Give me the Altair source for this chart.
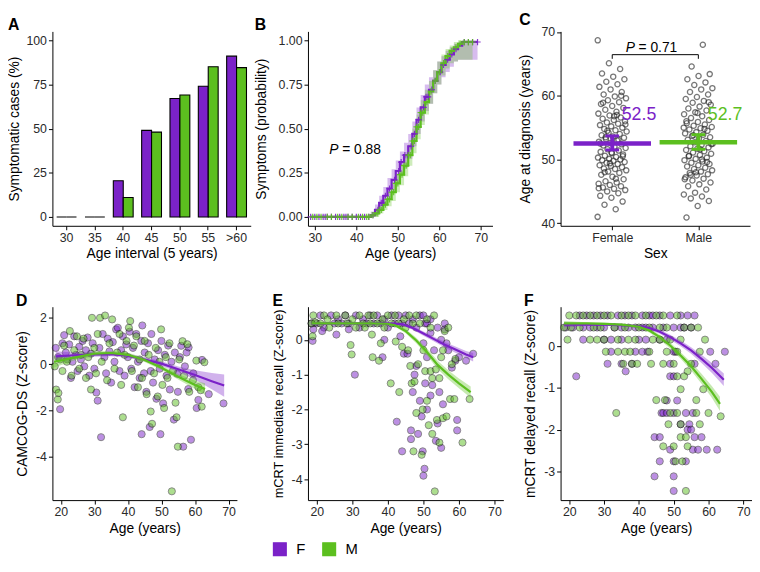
import altair as alt
import pandas as pd
import numpy as np

PURPLE = "#7B22C8"
GREEN = "#5CBF1F"
FONT = "Liberation Sans"
SEXES = ["F", "M"]
CS = alt.Scale(domain=SEXES, range=[PURPLE, GREEN])

# ---------------- Panel A data ----------------
A_groups = ["30", "35", "40", "45", "50", "55", ">60"]
A_F = [0, 0, 20.5, 49, 67, 74, 91]
A_M = [0, 0, 11, 48, 69, 85, 84.5]

# ---------------- Panel B data (cumulative symptom probability) ----------------
B_F_age = [29, 43.5, 44.5, 45.5, 46.5, 47.5, 48.5, 49.5, 50.5, 51.5, 52.5, 53.5, 54.5, 55.5, 56.5, 57.5, 58.5, 59.5, 60.5, 61.5, 62.5, 63.5, 64.5, 65.5, 69.2]
B_F_p = [0, 0.01, 0.04, 0.08, 0.12, 0.16, 0.21, 0.26, 0.31, 0.35, 0.40, 0.47, 0.55, 0.62, 0.68, 0.72, 0.77, 0.82, 0.86, 0.89, 0.92, 0.95, 0.97, 0.99, 0.99]
B_F_lo = [0, 0, 0.01, 0.04, 0.07, 0.10, 0.14, 0.19, 0.24, 0.28, 0.33, 0.40, 0.47, 0.54, 0.60, 0.64, 0.70, 0.75, 0.79, 0.82, 0.85, 0.88, 0.89, 0.89, 0.89]
B_F_hi = [0, 0.03, 0.07, 0.12, 0.17, 0.22, 0.27, 0.32, 0.37, 0.42, 0.47, 0.54, 0.62, 0.69, 0.75, 0.79, 0.83, 0.88, 0.91, 0.94, 0.96, 0.98, 0.99, 1.0, 1.0]
B_M_age = [29, 43.5, 44.5, 45.5, 46.5, 47.5, 48.5, 49.5, 50.5, 51.5, 52.5, 53.5, 54.5, 55.5, 56.5, 57.5, 58.5, 59.5, 60.5, 61.5, 62.5, 63.5, 64.5, 65.5, 68]
B_M_p = [0, 0.01, 0.02, 0.04, 0.07, 0.10, 0.14, 0.19, 0.24, 0.29, 0.35, 0.43, 0.51, 0.59, 0.65, 0.71, 0.77, 0.82, 0.87, 0.91, 0.94, 0.96, 0.98, 0.99, 0.99]
B_M_lo = [0, 0, 0.0, 0.02, 0.04, 0.06, 0.09, 0.14, 0.18, 0.23, 0.29, 0.36, 0.44, 0.52, 0.58, 0.64, 0.70, 0.75, 0.80, 0.84, 0.87, 0.88, 0.89, 0.89, 0.89]
B_M_hi = [0, 0.03, 0.04, 0.07, 0.10, 0.14, 0.19, 0.24, 0.30, 0.35, 0.41, 0.50, 0.58, 0.66, 0.72, 0.77, 0.83, 0.88, 0.92, 0.95, 0.97, 0.99, 1.0, 1.0, 1.0]
B_F_cens = [29, 30, 31, 32, 32.5, 33, 34, 35, 36, 37, 37.5, 38, 39, 40, 41, 42, 43, 44, 45.2, 46, 46.3, 47, 48, 49.2, 50.2, 50.8, 51.7, 52.3, 53.2, 54, 55, 56.2, 56.8, 57.3, 58.2, 59, 60.2, 61, 62, 63, 64, 66, 67, 68, 69.2]
B_M_cens = [29.5, 30.5, 31.5, 33, 34, 35.5, 36.5, 38, 39, 40.5, 41.5, 42.5, 43, 44, 45, 45.5, 46, 47, 47.5, 48, 48.5, 49, 49.5, 50, 50.5, 51, 51.5, 52, 52.5, 53, 53.5, 54, 54.5, 55, 55.5, 56, 57, 58, 59, 60, 61, 62, 63, 64, 65, 66, 67, 68]
B_P_TEXT = ["P", "= 0.88"]
B_P_age, B_P_prob = 33.5, 0.38

# ---------------- Panel C data ----------------
C_SEX_LABELS = ["Female", "Male"]
C_F_ages = [41.0, 42.2, 42.9, 43.4, 44.0, 44.3, 44.7, 45.0, 45.2, 45.4, 45.6, 45.8, 46.0, 46.2, 46.4, 46.6, 46.9, 47.3, 47.6, 47.9,
            48.1, 48.3, 48.5, 48.6, 48.8, 49.0, 49.1, 49.3, 49.5, 49.6, 49.8, 49.9, 50.0, 50.1, 50.3, 50.4, 50.6, 50.8, 51.0, 51.2,
            51.4, 51.6, 51.8, 52.0, 52.2, 52.4, 52.6, 52.8, 53.0, 53.2, 53.4, 53.6, 53.8, 54.0, 54.2, 54.4, 54.6, 54.8, 55.0, 55.2,
            55.4, 55.6, 55.8, 56.0, 56.2, 56.4, 56.6, 56.9, 57.2, 57.5, 57.8, 58.1, 58.4, 58.7, 59.0, 59.3, 59.6, 59.9, 60.2, 60.6,
            61.0, 61.4, 61.8, 62.2, 62.6, 63.0, 63.5, 64.2, 65.1, 68.7, 47.0, 48.0, 50.5, 51.1, 52.5, 53.1, 54.5, 55.5, 56.8, 58.9,
            60.0, 49.4, 45.5, 57.0, 53.5]
C_M_ages = [40.9, 42.7, 43.5, 43.9, 44.2, 44.5, 44.8, 45.3, 45.8, 46.1, 46.4, 46.7, 47.0, 47.2, 47.5, 47.7, 47.9, 48.1, 48.3, 48.5,
            48.7, 48.9, 49.1, 49.3, 49.5, 49.7, 49.9, 50.1, 50.3, 50.5, 50.7, 50.9, 51.1, 51.3, 51.5, 51.7, 51.9, 52.1, 52.3, 52.5,
            52.7, 52.9, 53.1, 53.3, 53.5, 53.7, 53.9, 54.1, 54.3, 54.5, 54.7, 54.9, 55.1, 55.3, 55.5, 55.7, 55.9, 56.2, 56.5, 56.8,
            57.1, 57.4, 57.7, 58.0, 58.3, 58.6, 58.9, 59.2, 59.5, 59.8, 60.2, 60.6, 61.0, 61.2, 61.7, 62.1, 62.6, 63.1, 63.4, 64.6,
            68.0, 46.9, 48.0, 49.6, 50.6, 51.6, 52.4, 53.8, 54.8, 56.0, 57.3, 59.0, 47.6, 50.0, 55.0]
C_mean = [52.5, 52.7]
C_lo = [51.5, 51.6]
C_hi = [53.7, 53.9]
C_label = ["52.5", "52.7"]
C_label_y = [56.9, 57.0]
C_P_TEXT = ["P", "= 0.71"]
C_bracket_y, C_bracket_low, C_P_y = 66.45, 65.8, 67.5

# ---------------- Panel D data ----------------
D_F_age = [18.5, 19.2, 19.8, 20.5, 21, 21.5, 22, 22.5, 23, 23.5, 24, 24.5, 25, 25.5, 26, 26.5, 27, 27.5, 28, 28.5, 29, 29.5, 30,
           30.6, 31, 31.5, 32, 32.5, 33, 33.5, 34, 34.5, 35, 35.5, 36, 36.5, 37, 37.5, 38, 38.5, 39, 39.5, 40, 40.5, 41, 41.5,
           42, 42.5, 43, 43.5, 44, 44.1, 44.3, 44.8, 45, 45.5, 46, 46.5, 46.8, 47, 47.5, 48, 48.5, 49, 49.7, 49.5, 50, 50.5,
           51, 51.5, 52, 52.5, 53, 53.7, 54, 54.7, 54.9, 55.5, 55.9, 56.5, 57, 57.5, 58, 58.1, 58.8, 59.5, 60.5, 61, 62.1,
           64.1, 68.5]
D_F_val = [0.7, 0.3, -1.95, 0.9, 1.25, 0.5, 0.2, 0.85, -0.6, 0.1, 1.2, 0.4, -0.3, 0.75, 0.2, 1.0, -0.1, 0.6, 1.15, -0.5, 0.45, 0.9,
           -0.2, -1.23, -1.58, 0.7, -3.16, 1.3, 0.3, -0.4, 1.1, 0.55, -0.8, 0.95, 0.1, 1.5, 1.57, -0.3, 0.6, 1.2, -0.5, 0.85,
           0.3, 1.4, -0.2, 0.7, -1.0, 1.3, 0.1, -0.6, 1.0, -3.03, 1.67, -0.4, 0.5, -1.2, 0.9, -2.72, -0.3, 1.3, -0.8, 0.2,
           -1.5, 0.6, -3.03, -0.2, 1.0, -1.7, 0.4, -0.5, 0.8, -1.1, 0.1, -2.4, 0.5, -0.42, -1.2, 0.3, 0.79, -3.57, -0.1, 0.5,
           -1.08, 0.72, -3.27, -0.4, -1.9, -1.55, 0.18, -1.3, -1.7]
D_M_age = [18.2, 18.6, 19.1, 19.3, 19.8, 20.5, 21, 21.8, 22.7, 23.2, 24, 24.8, 25.5, 26, 26.8, 27.5, 28.2, 29, 29.3, 30, 30.5,
           31, 31.7, 32.2, 33.2, 33.8, 34.5, 35.3, 36, 36.8, 37.5, 38, 38.5, 39, 39.6, 40.3, 40.7, 41.2, 41.8, 42.5, 43, 43.5,
           44.2, 45, 45.6, 46.2, 46.8, 47.2, 47.8, 48.3, 48.9, 49.4, 49.9, 50.3, 50.8, 51.3, 51.8, 52.4, 53.1, 53.4, 54.2, 54.5,
           54.9, 55.3, 56.3, 56.8, 57.7, 58.3, 59.4, 60.4, 61, 61.7, 62, 62.8]
D_M_val = [-0.1, -1.1, -1.53, -1.25, 0.2, -0.3, 0.8, 0.1, 1.43, -0.5, 0.6, 1.2, -0.2, 0.4, 1.1, -0.6, 0.3, -1.1, 2.0, 0.7, -0.4,
           1.3, 2.0, 0.1, 2.1, -0.7, 0.9, 1.93, -0.2, 0.5, 1.3, -0.9, -2.3, 0.4, 1.0, 1.57, 1.86, -0.3, 0.8, 1.2, -1.0, 0.2,
           -0.6, 1.0, -1.3, 0.4, -2.05, -2.58, -0.4, 0.7, -1.4, 0.1, 1.5, -0.9, -1.9, 0.3, -0.6, 0.9, -5.5, -0.3, -1.67, -2.3,
           -3.57, 0.2, 0.99, -0.5, 0.86, -1.2, -0.7, 0.15, -1.0, -1.13, -1.84, 0.08]
D_fitF_age = [18.5, 24, 30, 35, 40, 45, 50, 55, 60, 65, 68.7]
D_fitF_val = [0.33, 0.38, 0.42, 0.43, 0.36, 0.20, 0.02, -0.22, -0.47, -0.74, -0.93]
D_fitF_se = [0.22, 0.12, 0.10, 0.09, 0.09, 0.09, 0.10, 0.12, 0.20, 0.35, 0.48]
D_fitM_age = [18, 24, 30, 35, 40, 45, 50, 55, 60, 63]
D_fitM_val = [0.10, 0.28, 0.45, 0.48, 0.40, 0.18, -0.16, -0.55, -0.90, -1.08]
D_fitM_se = [0.25, 0.12, 0.10, 0.09, 0.09, 0.09, 0.10, 0.12, 0.18, 0.25]

# ---------------- Panel E data ----------------
E_F_age = [21, 24, 26, 28, 31, 33, 35, 37, 39, 41, 43, 45, 47, 49, 50, 52,
           18.5, 20, 22, 25, 27, 29, 32, 34, 36, 38, 40, 42, 44, 46, 48, 50.5, 51, 54, 56,
           18.8, 19, 21.5, 25.5, 29, 30.7, 38.5, 39, 42.5, 43.5, 44, 44.5, 45.5, 46.5, 46.5, 47, 47.5, 48, 48.5, 49,
           49.5, 49.8, 50, 50.3, 50.5, 51, 51, 52, 52.5, 53, 53.5, 54, 54.5, 55, 55.5, 56, 56.5, 57, 58, 59.5, 59.5,
           59, 60, 62, 64, 55, 52, 50]
E_F_val = [0.7, 0.7, 0.59, 0.7, 0.7, 0.59, 0.7, 0.7, 0.59, 0.7, 0.7, 0.7, 0.59, 0.7, 0.7, 0.59,
           0.47, 0.47, 0.35, 0.47, 0.47, 0.47, 0.35, 0.47, 0.47, 0.47, 0.35, 0.47, 0.47, 0.47, 0.35, 0.47, 0.47, 0.35, 0.47,
           -0.03, 0.3, 0.25, 0.15, 0.3, -1.0, -0.5, 0.0, -2.35, 0.1, -3.2, -0.4, -0.4, -2.6, -2.85, -1.5, -1.0, -0.75, -2.7, -1.75,
           -2.2, -3.2, -3.9, -3.7, -1.25, -0.5, -2.0, -1.6, -1.3, -0.3, -2.9, -2.4, -1.5, -3.1, -1.85, 0.3, -0.1, -0.3, -0.8, -2.3, -2.6,
           -0.6, -0.5, -0.6, -0.4, 0.0, 0.2, -0.1]
E_M_age = [19, 22, 23, 25.5, 28, 30, 32, 34.5, 36, 38.5, 40, 42, 44.5, 46, 48, 51, 53,
           18.5, 21, 23.5, 26, 28.5, 31, 33, 35, 37, 39, 41, 43, 45, 47, 49, 52,
           18.8, 19.5, 29.5, 29.8, 33.5, 35.5, 35.7, 37.5, 38, 40.8, 42.2, 43.2, 45.7, 46.3, 46.7, 47.2, 47.5, 48, 48.5, 49.5,
           49.8, 50.5, 51, 51.5, 52, 52.5, 52.5, 53.2, 53.5, 53.8, 54.5, 54.5, 55, 55.5, 56.5, 56, 57, 57.5, 58, 58.7,
           59, 61, 63, 55.5, 50, 44]
E_M_val = [0.7, 0.7, 0.59, 0.7, 0.7, 0.59, 0.7, 0.7, 0.7, 0.59, 0.7, 0.7, 0.59, 0.7, 0.7, 0.59, 0.7,
           0.47, 0.47, 0.35, 0.47, 0.47, 0.35, 0.47, 0.47, 0.47, 0.35, 0.47, 0.47, 0.35, 0.47, 0.47, 0.35,
           0.1, 0.5, -0.15, -0.42, 0.35, 0.15, -0.5, -0.6, -0.1, -1.25, -0.05, -1.5, -0.3, -0.75, -1.25, -3.2, -1.2, -2.1, -0.7, -3.3,
           -2.0, -0.9, -1.75, -2.45, -0.9, -1.1, -2.7, -4.35, -0.85, -2.3, -1.1, -2.95, -0.5, -2.25, -2.2, 0.25, 0.35, -1.7, -0.7, -1.7,
           -0.55, -2.95, -1.7, -0.3, -0.3, -0.2]
E_fitF_age = [18.5, 25, 30, 35, 40, 44, 47, 50, 53, 56, 59, 62, 64]
E_fitF_val = [0.46, 0.47, 0.47, 0.47, 0.47, 0.45, 0.34, 0.18, 0.02, -0.14, -0.28, -0.42, -0.50]
E_fitF_se = [0.05, 0.03, 0.03, 0.03, 0.03, 0.03, 0.05, 0.06, 0.07, 0.08, 0.09, 0.10, 0.12]
E_fitM_age = [18.5, 25, 30, 35, 40, 42, 45, 48, 51, 54, 57, 60, 63.3]
E_fitM_val = [0.47, 0.47, 0.47, 0.47, 0.46, 0.42, 0.25, -0.02, -0.35, -0.72, -1.0, -1.25, -1.50]
E_fitM_se = [0.05, 0.03, 0.03, 0.03, 0.03, 0.04, 0.06, 0.08, 0.10, 0.12, 0.13, 0.14, 0.16]

# ---------------- Panel F data (score level -> ages) ----------------
F_F_levels = [
    (0.74, [23, 25, 27, 29, 31, 34, 36, 38, 41, 43, 44, 46, 49, 52, 54, 56]),
    (0.45, [19, 21, 24, 26, 28, 30, 33, 35, 37, 39, 41, 42, 44, 47, 50, 52, 53, 55]),
    (0.16, [24, 30, 32, 35, 40, 42, 46, 48]),
    (-0.13, [32, 39, 41, 42.5, 50, 50.5, 60.5, 64.7]),
    (-0.42, [31, 35, 38, 49, 56, 62]),
    (-0.60, [36.2]),
    (-0.72, [22, 49, 50]),
    (-1.30, [48, 51]),
    (-1.60, [46.5, 47, 48, 50, 53.5, 55.5]),
    (-1.87, [52, 54.5]),
    (-2.00, [54, 55]),
    (-2.18, [44.5, 46, 56, 58]),
    (-2.48, [49, 55.5, 57, 59.5, 62.5]),
    (-2.76, [46, 50, 53.5]),
    (-3.12, [44.5, 50]),
    (-3.47, [50]),
]
F_M_levels = [
    (0.74, [20, 22, 24, 26, 28, 30, 32, 35, 37, 39, 42, 45, 47, 51]),
    (0.45, [18.5, 20.5, 23, 27, 29, 33, 36, 40, 43, 46, 48, 53, 55, 57]),
    (0.16, [19.5, 26, 28, 30, 34, 37, 39, 44, 46, 49, 52, 59]),
    (-0.13, [30.5, 34, 36, 37.5, 43, 48, 51, 57.5]),
    (-0.42, [35.5, 38, 39.5, 43.5, 47, 50, 55]),
    (-0.60, [54]),
    (-0.72, [51, 53]),
    (-1.03, [52, 58.5]),
    (-1.29, [45, 47.5, 56.5]),
    (-1.60, [33.5, 49, 51, 56.5, 60]),
    (-1.68, [63.5]),
    (-1.87, [48.5, 52, 57.5]),
    (-2.18, [52, 53.5]),
    (-2.40, [47, 50, 54]),
    (-2.76, [50.5, 52.5]),
    (-3.47, [53.5]),
]
F_fitF_age = [18.5, 25, 30, 35, 40, 43, 46, 49, 52, 55, 58, 61, 64.4]
F_fitF_val = [0.52, 0.52, 0.52, 0.51, 0.48, 0.44, 0.35, 0.22, 0.07, -0.10, -0.30, -0.52, -0.80]
F_fitF_se = [0.06, 0.03, 0.03, 0.03, 0.03, 0.04, 0.05, 0.06, 0.07, 0.08, 0.10, 0.12, 0.15]
F_fitM_age = [18.5, 25, 30, 35, 40, 43, 46, 49, 52, 55, 58, 61, 63.3]
F_fitM_val = [0.55, 0.55, 0.54, 0.52, 0.47, 0.38, 0.22, 0.02, -0.22, -0.48, -0.78, -1.10, -1.38]
F_fitM_se = [0.06, 0.03, 0.03, 0.03, 0.04, 0.05, 0.06, 0.07, 0.08, 0.10, 0.12, 0.14, 0.17]

# ================= helpers =================
H1 = 197
H2 = 196


def ttl(t):
    return alt.TitleParams(t, anchor="start", fontSize=16, fontWeight="bold", offset=-2,
                           color="black", font=FONT)


def yaxis(vals, ext, fmt_plain=False, **kw):
    args = dict(values=vals, minExtent=ext, maxExtent=ext, titlePadding=6)
    if fmt_plain:
        args["labelExpr"] = "toString(datum.value)"
    args.update(kw)
    return alt.Axis(**args)


# ================= Panel A =================
dfA = pd.DataFrame({"group": A_groups * 2, "sex": ["F"] * len(A_F) + ["M"] * len(A_M), "pct": A_F + A_M})
chartA = alt.Chart(dfA, title=ttl("A")).mark_bar(stroke="black", strokeWidth=1.1).encode(
    x=alt.X("group:N", sort=A_groups, title="Age interval (5 years)",
            scale=alt.Scale(paddingInner=0.3, paddingOuter=0.15), axis=alt.Axis(labelAngle=0)),
    xOffset=alt.XOffset("sex:N", sort=SEXES, scale=alt.Scale(paddingInner=0, paddingOuter=0)),
    y=alt.Y("pct:Q", title="Symptomatic cases (%)", scale=alt.Scale(domain=[-5, 105], nice=False, zero=False),
            axis=yaxis([0, 25, 50, 75, 100], 25)),
    y2=alt.datum(0),
    fill=alt.Fill("sex:N", scale=CS, legend=None),
).properties(width=201, height=H1)


# ================= Panel B =================
def km_frame(sex, ages, p, lo, hi):
    return pd.DataFrame({"sex": sex, "age": ages, "p": p, "lo": lo, "hi": hi})


dfB = pd.concat([km_frame("F", B_F_age, B_F_p, B_F_lo, B_F_hi), km_frame("M", B_M_age, B_M_p, B_M_lo, B_M_hi)])


def cens_frame(sex, cens, ages, p):
    idx = np.searchsorted(np.array(ages), np.array(cens), side="right") - 1
    idx = np.clip(idx, 0, len(p) - 1)
    return pd.DataFrame({"sex": sex, "age": cens, "p": np.array(p)[idx]})


dfBc = pd.concat([cens_frame("F", B_F_cens, B_F_age, B_F_p), cens_frame("M", B_M_cens, B_M_age, B_M_p)])

xB = alt.X("age:Q", title="Age (years)", scale=alt.Scale(domain=[28.35, 72.8], nice=False, zero=False),
           axis=alt.Axis(values=[30, 40, 50, 60, 70]))
yB_scale = alt.Scale(domain=[-0.05, 1.05], nice=False, zero=False)
B_band = alt.Chart(dfB).mark_area(interpolate="step-after", opacity=0.3).encode(
    x=xB, y=alt.Y("lo:Q", scale=yB_scale, title="Symptoms (probability)",
                  axis=yaxis([0, 0.25, 0.5, 0.75, 1.0], 34, format=".2f")),
    y2="hi:Q", color=alt.Color("sex:N", scale=CS, legend=None))
B_line = alt.Chart(dfB).mark_line(interpolate="step-after", strokeWidth=2.2).encode(
    x=xB, y=alt.Y("p:Q", scale=yB_scale), color=alt.Color("sex:N", scale=CS, legend=None))
B_cens = alt.Chart(dfBc).mark_point(shape="M0,-1L0,1M-1,0L1,0", size=40, strokeWidth=1.2, filled=False, opacity=0.9).encode(
    x=xB, y=alt.Y("p:Q", scale=yB_scale), color=alt.Color("sex:N", scale=CS, legend=None))
dfBp = pd.DataFrame({"age": [B_P_age], "p": [B_P_prob]})
B_p1 = alt.Chart(dfBp).mark_text(text=B_P_TEXT[0], fontStyle="italic", align="left", baseline="middle",
                                 fontSize=14, font=FONT, color="black").encode(x=xB, y=alt.Y("p:Q", scale=yB_scale))
B_p2 = alt.Chart(dfBp).mark_text(text=B_P_TEXT[1], align="left", baseline="middle", dx=13,
                                 fontSize=14, font=FONT, color="black").encode(x=xB, y=alt.Y("p:Q", scale=yB_scale))
chartB = alt.layer(B_band, B_line, B_cens, B_p1, B_p2, title=ttl("B")).properties(width=187, height=H1)

# ================= Panel C =================
def jitter(n):
    return ((np.arange(n) * 0.6180339887) % 1.0 - 0.5) * 0.34


dfC = pd.concat([
    pd.DataFrame({"s": 1 + jitter(len(C_F_ages)), "age": C_F_ages}),
    pd.DataFrame({"s": 2 + jitter(len(C_M_ages))[::-1], "age": C_M_ages}),
])
xC_scale = alt.Scale(domain=[0.4, 2.6], nice=False, zero=False)
yC_scale = alt.Scale(domain=[39.6, 70.1], nice=False, zero=False)
xC = alt.X("s:Q", title="Sex", scale=xC_scale,
           axis=alt.Axis(values=[1, 2], labelExpr=f"datum.value == 1 ? '{C_SEX_LABELS[0]}' : '{C_SEX_LABELS[1]}'"))
C_pts = alt.Chart(dfC).mark_point(filled=False, size=28, strokeWidth=1.3, color="#1e1e1e", opacity=0.6).encode(
    x=xC, y=alt.Y("age:Q", title="Age at diagnosis (years)", scale=yC_scale, axis=yaxis([40, 50, 60, 70], 22)))
dfCm = pd.DataFrame({"s": [1, 2], "sex": SEXES, "mean": C_mean, "lo": C_lo, "hi": C_hi,
                     "label": C_label, "ly": C_label_y})
colC = alt.Color("sex:N", scale=CS, legend=None)
C_mean_bar = alt.Chart(dfCm).mark_rule(strokeWidth=4.5).transform_calculate(
    x1="datum.s - 0.45", x2="datum.s + 0.45").encode(
    x=alt.X("x1:Q", scale=xC_scale), x2="x2:Q", y=alt.Y("mean:Q", scale=yC_scale), color=colC)
C_err = alt.Chart(dfCm).mark_rule(strokeWidth=4).encode(
    x=alt.X("s:Q", scale=xC_scale), y=alt.Y("lo:Q", scale=yC_scale), y2="hi:Q", color=colC)
C_cap_lo = alt.Chart(dfCm).mark_rule(strokeWidth=3).transform_calculate(
    c1="datum.s - 0.08", c2="datum.s + 0.08").encode(
    x=alt.X("c1:Q", scale=xC_scale), x2="c2:Q", y=alt.Y("lo:Q", scale=yC_scale), color=colC)
C_cap_hi = alt.Chart(dfCm).mark_rule(strokeWidth=3).transform_calculate(
    c1="datum.s - 0.08", c2="datum.s + 0.08").encode(
    x=alt.X("c1:Q", scale=xC_scale), x2="c2:Q", y=alt.Y("hi:Q", scale=yC_scale), color=colC)
C_lab = alt.Chart(dfCm).mark_text(align="left", baseline="middle", fontSize=18, font=FONT).transform_calculate(
    lx="datum.s + 0.11").encode(
    x=alt.X("lx:Q", scale=xC_scale), y=alt.Y("ly:Q", scale=yC_scale), text="label:N", color=colC)
dfBr = pd.DataFrame({"s1": [1], "s2": [2], "y": [C_bracket_y], "sm": [1.5], "py": [C_P_y]})
dfBrEnds = pd.DataFrame({"s": [1, 2], "y": [C_bracket_y] * 2, "ylo": [C_bracket_low] * 2})
C_br = alt.Chart(dfBr).mark_rule(color="black", strokeWidth=1).encode(
    x=alt.X("s1:Q", scale=xC_scale), x2="s2:Q", y=alt.Y("y:Q", scale=yC_scale))
C_br_ends = alt.Chart(dfBrEnds).mark_rule(color="black", strokeWidth=1).encode(
    x=alt.X("s:Q", scale=xC_scale), y=alt.Y("ylo:Q", scale=yC_scale), y2="y:Q")
C_p1 = alt.Chart(dfBr).mark_text(text=C_P_TEXT[0], fontStyle="italic", align="left", baseline="middle",
                                 fontSize=14, font=FONT, color="black", dx=-30).encode(
    x=alt.X("sm:Q", scale=xC_scale), y=alt.Y("py:Q", scale=yC_scale))
C_p2 = alt.Chart(dfBr).mark_text(text=C_P_TEXT[1], align="left", baseline="middle",
                                 fontSize=14, font=FONT, color="black", dx=-17).encode(
    x=alt.X("sm:Q", scale=xC_scale), y=alt.Y("py:Q", scale=yC_scale))
chartC = alt.layer(C_pts, C_br, C_br_ends, C_p1, C_p2, C_mean_bar, C_err, C_cap_lo, C_cap_hi, C_lab,
                   title=ttl("C")).properties(width=192, height=H1)


# ================= Panels D, E, F =================
def scatter_panel(letter, f_age, f_val, m_age, m_val, fitF, fitM, ydom, yvals, ytitle, width, legend=None,
                  ytitle_size=14):
    pts = pd.concat([pd.DataFrame({"sex": "F", "age": f_age, "val": f_val}),
                     pd.DataFrame({"sex": "M", "age": m_age, "val": m_val})])
    fits = []
    for sex, (a, v, se) in zip(SEXES, [fitF, fitM]):
        fits.append(pd.DataFrame({"sex": sex, "age": a, "val": v,
                                  "lo": np.array(v) - np.array(se), "hi": np.array(v) + np.array(se)}))
    fit = pd.concat(fits)
    xs = alt.X("age:Q", title="Age (years)", scale=alt.Scale(domain=[17.5, 72.5], nice=False, zero=False),
               axis=alt.Axis(values=[20, 30, 40, 50, 60, 70]))
    ys = alt.Scale(domain=ydom, nice=False, zero=False)
    p = alt.Chart(pts).mark_circle(size=52, opacity=0.5, stroke="black", strokeWidth=0.9).encode(
        x=xs, y=alt.Y("val:Q", title=ytitle, scale=ys,
                      axis=yaxis(yvals, 17, fmt_plain=True, titleFontSize=ytitle_size)),
        fill=alt.Fill("sex:N", scale=CS, legend=legend))
    band = alt.Chart(fit).mark_area(opacity=0.35).encode(
        x=xs, y=alt.Y("lo:Q", scale=ys), y2="hi:Q", color=alt.Color("sex:N", scale=CS, legend=None))
    line = alt.Chart(fit).mark_line(strokeWidth=2.2).encode(
        x=xs, y=alt.Y("val:Q", scale=ys), color=alt.Color("sex:N", scale=CS, legend=None))
    return alt.layer(p, band, line, title=ttl(letter)).properties(width=width, height=H2)


def levels_to_lists(levels):
    ages, vals = [], []
    for v, a_list in levels:
        for a in a_list:
            ages.append(a)
            vals.append(v)
    return ages, vals


legE = alt.Legend(title=None, orient="none", legendX=-36, legendY=238, direction="horizontal",
                  symbolType="square", symbolSize=169, symbolStrokeColor="black", symbolStrokeWidth=1.2,
                  symbolOpacity=1, labelFontSize=15, labelOffset=9, columnPadding=14, labelColor="black",
                  labelFont=FONT)
chartD = scatter_panel("D", D_F_age, D_F_val, D_M_age, D_M_val,
                       (D_fitF_age, D_fitF_val, D_fitF_se), (D_fitM_age, D_fitM_val, D_fitM_se),
                       [-5.88, 2.48], [-4, -2, 0, 2], "CAMCOG-DS (Z-score)", 187)
chartE = scatter_panel("E", E_F_age, E_F_val, E_M_age, E_M_val,
                       (E_fitF_age, E_fitF_val, E_fitF_se), (E_fitM_age, E_fitM_val, E_fitM_se),
                       [-4.6, 0.95], [-4, -3, -2, -1, 0], "mCRT immediate recall (Z-score)", 198, legend=legE,
                       ytitle_size=13)
FFa, FFv = levels_to_lists(F_F_levels)
FMa, FMv = levels_to_lists(F_M_levels)
chartF = scatter_panel("F", FFa, FFv, FMa, FMv,
                       (F_fitF_age, F_fitF_val, F_fitF_se), (F_fitM_age, F_fitM_val, F_fitM_se),
                       [-3.69, 0.95], [-3, -2, -1, 0], "mCRT delayed recall (Z-score)", 194)

chart = alt.ConcatChart(
    concat=[chartA, chartB, chartC, chartD, chartE, chartF],
    columns=3, align="none", bounds="flush", spacing={"row": 82, "column": 58},
).resolve_scale(color="independent", fill="independent").properties(padding=0).configure(
    font=FONT).configure_view(stroke=None).configure_axis(
    grid=False, domainColor="black", tickColor="black", labelColor="#2a2a2a", titleColor="black",
    labelFontSize=12.5, titleFontSize=14, titleFontWeight="normal", tickSize=4, labelPadding=2,
    domainWidth=1, tickWidth=1, labelFont=FONT, titleFont=FONT, titlePadding=3
)

chart.save("out.html", embed_options={"renderer": "svg", "actions": False})
